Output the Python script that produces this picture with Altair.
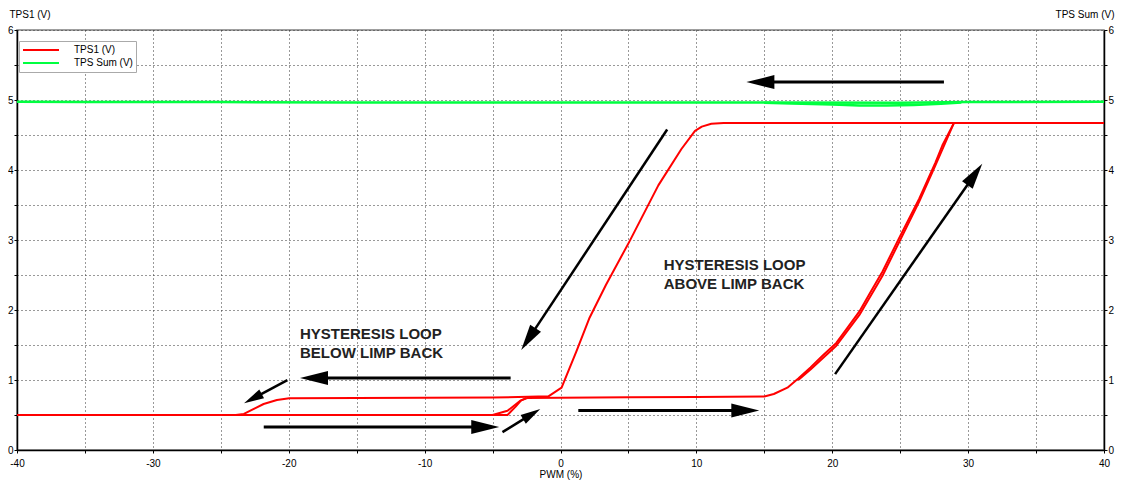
import math
import altair as alt
import pandas as pd

# ---------------- data ----------------
SERIES = ["TPS1 (V)", "TPS Sum (V)"]

# TPS1 (V): rising branch (left -> right)
tps1_up_x = [-40, -5.0, -3.9, -2.94, -2.45, 0.0, 5.0, 10.0, 15.0, 15.7, 16.7, 17.5,
             18.4, 19.3, 20.3, 21.1, 22.0, 22.8, 23.7, 24.9, 26.4, 27.6, 28.1, 28.95, 40]
tps1_up_y = [0.50, 0.50, 0.56, 0.705, 0.742, 0.748, 0.752, 0.757, 0.765, 0.80, 0.89, 1.02,
             1.18, 1.35, 1.53, 1.74, 1.98, 2.25, 2.55, 3.02, 3.59, 4.11, 4.35, 4.67, 4.67]
# second rising cycle (slightly offset)
tps1_up2_x = [17.5, 18.4, 20.3, 22.0, 23.7, 24.9, 26.4, 27.6, 28.95]
tps1_up2_y = [1.00, 1.15, 1.49, 1.93, 2.49, 2.96, 3.55, 4.07, 4.67]
# small wedge near -4 %
tps1_wedge_x = [-5.0, -3.9, -3.3, -2.9, -2.5]
tps1_wedge_y = [0.50, 0.50, 0.62, 0.71, 0.745]
# TPS1 (V): falling branch (right -> left)
tps1_down_x = [40, 29.0, 12.0, 11.1, 10.4, 9.9, 8.9, 7.2, 5.05, 3.35, 2.14, 1.17, 0.08, -0.89,
               -5.0, -10.0, -15.0, -19.96, -20.87, -21.85, -22.57, -23.3, -23.9, -40]
tps1_down_y = [4.67, 4.67, 4.67, 4.66, 4.62, 4.56, 4.30, 3.78, 2.97, 2.36, 1.89, 1.41, 0.89, 0.767,
               0.75, 0.745, 0.742, 0.738, 0.714, 0.657, 0.586, 0.515, 0.50, 0.50]

# TPS Sum (V)
sum_x = [-40, -35, -25, -15, -5, 5, 15, 25, 30, 40]
sum_y = [4.975, 4.97, 4.97, 4.965, 4.965, 4.965, 4.965, 4.96, 4.97, 4.975]
sum_dip_x = [15, 17, 20, 22, 24, 26, 28, 29.5]
sum_dip_y = [4.96, 4.95, 4.935, 4.92, 4.92, 4.93, 4.945, 4.965]

# annotation arrows (start -> tip), in data units
arrow_x0 = [28.22, 7.85, 20.21, -3.67, -20.10, -21.84, -4.27, 1.31]
arrow_y0 = [5.256, 4.578, 1.084, 1.027, 0.999, 0.327, 0.256, 0.564]
arrow_x1 = [13.68, -2.89, 31.04, -19.17, -23.29, -4.51, -1.49, 14.63]
arrow_y1 = [5.256, 1.430, 4.091, 1.027, 0.668, 0.327, 0.587, 0.564]

# annotation text
ann_text = ["HYSTERESIS LOOP", "ABOVE LIMP BACK", "HYSTERESIS LOOP", "BELOW LIMP BACK"]
ann_x = [7.6, 7.6, -19.17, -19.17]
ann_y = [2.571, 2.301, 1.591, 1.321]

# ---------------- styles / layout ----------------
FONT = "Liberation Sans"
W, H = 1087, 420
X_DOMAIN = [-40, 40]
Y_DOMAIN = [0, 6]
head_len = [28, 26, 26, 28, 20, 28, 20, 28]
shaft_w = [3, 2.5, 2.5, 3, 2.5, 3, 2.5, 3]
HEAD = "M0,0L-0.5,2L0.5,2Z"

# ---------------- tables ----------------
def trace_rows(series, trace, xs, ys):
    return [dict(series=series, trace=trace, i=i, x=a, y=b) for i, (a, b) in enumerate(zip(xs, ys))]

red_df = pd.DataFrame(
    trace_rows(SERIES[0], "up", tps1_up_x, tps1_up_y)
    + trace_rows(SERIES[0], "up2", tps1_up2_x, tps1_up2_y)
    + trace_rows(SERIES[0], "wedge", tps1_wedge_x, tps1_wedge_y)
    + trace_rows(SERIES[0], "down", tps1_down_x, tps1_down_y)
)
green_df = pd.DataFrame(
    trace_rows(SERIES[1], "s1", sum_x, sum_y)
    + trace_rows(SERIES[1], "s2", sum_dip_x, sum_dip_y)
)

sx = W / (X_DOMAIN[1] - X_DOMAIN[0])
sy = H / (Y_DOMAIN[1] - Y_DOMAIN[0])
arows = []
for x0, y0, x1, y1, L, w in zip(arrow_x0, arrow_y0, arrow_x1, arrow_y1, head_len, shaft_w):
    dxp = (x1 - x0) * sx
    dyp = -(y1 - y0) * sy
    n = math.hypot(dxp, dyp)
    ux, uy = dxp / n, dyp / n
    ang = math.degrees(math.atan2(dxp, -dyp)) % 360
    xe = x1 - 0.6 * L * ux / sx
    ye = y1 + 0.6 * L * uy / sy
    arows.append(dict(x0=x0, y0=y0, x1=x1, y1=y1, xe=xe, ye=ye, ang=ang, sz=L * L, w=w))
arrow_df = pd.DataFrame(arows)
ann_df = pd.DataFrame(dict(t=ann_text, x=ann_x, y=ann_y))

# ---------------- axes ----------------
common = dict(
    domainColor="black", domainWidth=1.5, tickColor="black", tickSize=3,
    labelFont=FONT, labelFontSize=10, labelColor="black",
    titleFont=FONT, titleFontSize=10, titleFontWeight="normal", titleColor="black",
    labelOverlap=False, labelFlush=False,
)
x_axis = alt.Axis(
    values=list(range(-40, 41, 5)),
    labelExpr="datum.value % 10 === 0 ? '' + datum.value : ''",
    title="PWM (%)", titleBaseline="alphabetic", titleY=27,
    grid=True, gridColor="#333333", gridDash=[1, 3], gridWidth=1,
    labelPadding=5, **common,
)
yvals = [v / 2 for v in range(0, 13)]
yl_axis = alt.Axis(
    orient="left", values=yvals,
    labelExpr="datum.value % 1 === 0 ? '' + datum.value : ''",
    title="TPS1 (V)", titleAngle=0, titleAlign="left", titleBaseline="alphabetic",
    titleX=-8, titleY=-12.5,
    grid=True, gridColor="#333333", gridDash=[1, 3], gridWidth=1,
    labelPadding=1, **common,
)
yr_axis = alt.Axis(
    orient="right", values=yvals,
    labelExpr="datum.value % 1 === 0 ? '' + datum.value : ''",
    title="TPS Sum (V)", titleAngle=0, titleAlign="right", titleBaseline="alphabetic",
    titleX=10, titleY=-12.5, grid=False,
    labelPadding=1, **common,
)

xs = alt.Scale(domain=X_DOMAIN, nice=False, zero=False)
ys = alt.Scale(domain=Y_DOMAIN, nice=False, zero=False)

def xenc(f="x"):
    return alt.X(f"{f}:Q", scale=xs, axis=x_axis)

def yenc(f="y"):
    return alt.Y(f"{f}:Q", scale=ys, axis=yl_axis)

color_enc = alt.Color(
    "series:N",
    scale=alt.Scale(domain=SERIES, range=["#ff0000", "#00ff40"]),
    legend=alt.Legend(
        title=None, orient="none", legendX=2, legendY=11,
        symbolType="stroke", symbolSize=1296, symbolStrokeWidth=2,
        clipHeight=12, rowPadding=1, labelOffset=14,
        labelFont=FONT, labelFontSize=10, labelColor="black",
        padding=3, strokeColor="#aaaaaa", fillColor="white",
    ),
)

red = alt.Chart(red_df).mark_line(strokeWidth=2, strokeJoin="round").encode(
    x=xenc(), y=yenc(), color=color_enc, detail="trace:N", order="i:Q"
)
shafts = alt.Chart(arrow_df).mark_rule(color="black", strokeCap="butt").encode(
    x=xenc("x0"), y=yenc("y0"), x2="xe:Q", y2="ye:Q",
    strokeWidth=alt.StrokeWidth("w:Q", scale=None),
)
heads = alt.Chart(arrow_df).mark_point(
    shape=HEAD, filled=True, color="black", opacity=1, strokeWidth=0
).encode(
    x=xenc("x1"), y=yenc("y1"),
    angle=alt.Angle("ang:Q", scale=None),
    size=alt.Size("sz:Q", scale=None),
)
texts = alt.Chart(ann_df).mark_text(
    align="left", baseline="alphabetic", font=FONT, fontSize=15,
    fontWeight="bold", color="#222222"
).encode(x=xenc(), y=yenc(), text="t:N")

inner = alt.layer(red, shafts, heads, texts)

green = alt.Chart(green_df).mark_line(strokeWidth=2.5).encode(
    x=xenc(), y=alt.Y("y:Q", scale=ys, axis=yr_axis),
    color=color_enc, detail="trace:N", order="i:Q"
)

chart = (
    alt.layer(inner, green)
    .resolve_scale(y="independent")
    .properties(
        width=W, height=H,
        padding={"left": 9, "top": 22, "right": 11, "bottom": 30},
        autosize=alt.AutoSizeParams(type="none"),
        background="white",
    )
    .configure_view(stroke="#808080", strokeWidth=1.5)
)

chart.save("out.html", embed_options={"renderer": "svg", "actions": False})
